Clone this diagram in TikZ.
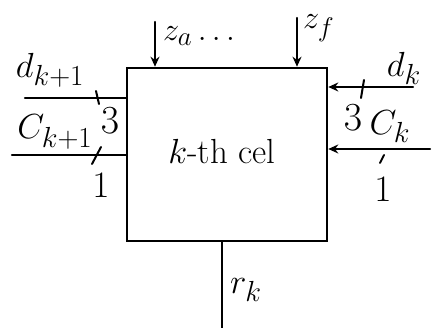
\documentclass[tikz,border=0pt]{standalone}
\usepackage{graphicx}
\usetikzlibrary{arrows.meta}
\newcommand{\hw}[2][1.3]{\scalebox{#1}{\Huge #2}}
\begin{document}
\begin{tikzpicture}[x=1pt,y=-1pt,
  wire/.style={line width=2.4pt,line cap=round},
  inarrow/.style={wire,-{Stealth[length=10pt,width=9pt]}},
  lbl/.style={inner sep=1pt},
  tick/.style={line width=2pt,line cap=round}]
\useasboundingbox (0,0) rectangle (439,328);
\node[draw,line width=2.6pt,minimum width=200pt,minimum height=173pt,inner sep=0pt] (cell) at (227,154.5) {};
\node[lbl] (ctext) at (222,152) {\hw[1.4]{$k$-th cel}};
% top inputs
\coordinate (za) at (155,22);
\coordinate (zf) at (297,18);
\draw[inarrow] (za) -- (za |- cell.north);
\draw[inarrow] (zf) -- (zf |- cell.north);
\node[lbl,anchor=west] (zalbl) at (162,36) {\hw{$z_a\ldots$}};
\node[lbl,anchor=west] (zflbl) at (302,28) {\hw{$z_f$}};
% left inputs
\coordinate (dl) at (25,98);
\coordinate (cl) at (12,155);
\draw[wire] (dl) -- (dl -| cell.west);
\draw[wire] (cl) -- (cl -| cell.west);
\node[lbl] (dlbl) at (50,70) {\hw[1.4]{$d_{k+1}$}};
\node[lbl] (clbl) at (55,132) {\hw[1.4]{$C_{k+1}$}};
\draw[tick] (96,91) -- (99,104);
\node[lbl] (d3) at (110,121) {\hw[1.6]{$3$}};
\draw[tick] (92,164) -- (101,147);
\node[lbl] (c1) at (101,185) {\hw[1.5]{$1$}};
% right inputs
\coordinate (dr) at (413,87);
\coordinate (cr) at (430,149);
\draw[inarrow] (dr) -- (dr -| cell.east);
\draw[inarrow] (cr) -- (cr -| cell.east);
\node[lbl] (drlbl) at (404,68) {\hw[1.4]{$d_k$}};
\node[lbl] (crlbl) at (390,127) {\hw[1.4]{$C_k$}};
\draw[tick] (364,80) -- (361,98);
\node[lbl] (r3) at (353,118) {\hw[1.6]{$3$}};
\draw[tick] (384,155) -- (380,163);
\node[lbl] (r1) at (383,189) {\hw[1.5]{$1$}};
% output
\coordinate (rk) at (222,328);
\draw[wire] (rk |- cell.south) -- (rk);
\node[lbl] (rklbl) at (246,290) {\hw[1.4]{$r_k$}};
\end{tikzpicture}
\end{document}
